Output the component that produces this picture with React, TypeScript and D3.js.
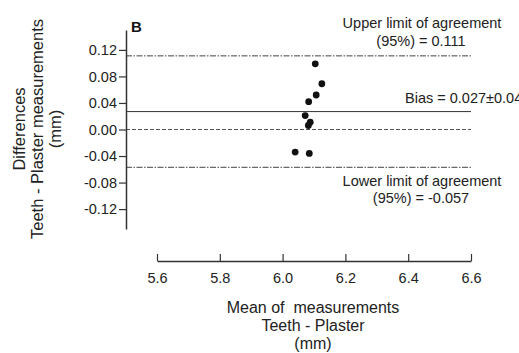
import React, { useRef, useEffect } from "react";
import { select, scaleLinear, axisLeft, axisBottom, format } from "d3";

// Bland-Altman data
const meanValues = [6.104, 6.125, 6.107, 6.083, 6.072, 6.088, 6.082, 6.04, 6.085];
const diffValues = [0.099, 0.069, 0.052, 0.042, 0.021, 0.011, 0.006, -0.034, -0.036];
const yTicks = [-0.12, -0.08, -0.04, 0.0, 0.04, 0.08, 0.12];
const xTicks = [5.6, 5.8, 6.0, 6.2, 6.4, 6.6];
const upperLimit = 0.111;
const bias = 0.027;
const lowerLimit = -0.057;

const width = 519;
const height = 353;
const font = "'Liberation Sans', Arial, sans-serif";

// plain hyphen instead of d3's unicode minus
const fmt2 = (d) => format(".2f")(d).replace("\u2212", "-");

const App = () => {
    const yAxisRef = useRef(null);
    const xAxisRef = useRef(null);

    const xScale = scaleLinear().domain([5.6, 6.6]).range([157, 471]);
    const yScale = scaleLinear().domain([-0.15, 0.15]).range([229, 30]);
    const yAxisX = 126;
    const xAxisY = 261;

    useEffect(() => {
        const yAxis = axisLeft(yScale).tickValues(yTicks).tickFormat(fmt2).tickSize(7).tickSizeOuter(0);
        const gy = select(yAxisRef.current);
        gy.selectAll("*").remove();
        gy.call(yAxis);
        gy.select(".domain").attr("stroke", "#333").attr("stroke-width", 1.5);
        gy.selectAll(".tick line").attr("stroke", "#333").attr("stroke-width", 1.2);
        gy.selectAll(".tick text")
            .attr("font-family", font)
            .attr("font-size", 14.5)
            .attr("fill", "#222")
            .attr("x", -9)
            .text((d) => (d === 0 ? "0.00" : fmt2(d)));

        const xAxis = axisBottom(xScale).tickValues(xTicks).tickFormat(format(".1f")).tickSize(-7).tickSizeOuter(0);
        const gx = select(xAxisRef.current);
        gx.selectAll("*").remove();
        gx.call(xAxis);
        gx.select(".domain").attr("stroke", "#333").attr("stroke-width", 1.5);
        gx.selectAll(".tick line").attr("stroke", "#333").attr("stroke-width", 1.2);
        gx.selectAll(".tick text")
            .attr("font-family", font)
            .attr("font-size", 14.5)
            .attr("fill", "#222")
            .attr("y", 12);
    }, []);

    const lineEnd = xScale(6.6);

    return (
        <svg width={width} height={height} style={{ position: "absolute", left: 0, top: 0, background: "#fff" }}>
            {/* reference lines */}
            <line x1={yAxisX} x2={lineEnd} y1={yScale(upperLimit)} y2={yScale(upperLimit)} stroke="#444" strokeWidth={1} strokeDasharray="6,1.5,1.5,1.5" />
            <line x1={yAxisX} x2={lineEnd} y1={yScale(bias)} y2={yScale(bias)} stroke="#333" strokeWidth={1} />
            <line x1={yAxisX} x2={lineEnd} y1={yScale(0)} y2={yScale(0)} stroke="#555" strokeWidth={1} strokeDasharray="4,2" />
            <line x1={yAxisX} x2={lineEnd} y1={yScale(lowerLimit)} y2={yScale(lowerLimit)} stroke="#444" strokeWidth={1} strokeDasharray="6,1.5,1.5,1.5" />

            <g ref={yAxisRef} transform={`translate(${yAxisX},0)`} />
            <g ref={xAxisRef} transform={`translate(0,${xAxisY})`} />

            {meanValues.map((m, i) => (
                <circle key={i} cx={xScale(m)} cy={yScale(diffValues[i])} r={3.4} fill="#111" />
            ))}

            <text x={131} y={32} fontFamily={font} fontSize={15} fontWeight="bold" fill="#111">B</text>

            <g fontFamily={font} fontSize={14.5} fill="#222">
                <text x={422} y={28} textAnchor="middle">Upper limit of agreement</text>
                <text x={421} y={46} textAnchor="middle">(95%) = 0.111</text>
                <text x={405} y={103}>Bias = 0.027±0.04</text>
                <text x={422} y={186} textAnchor="middle">Lower limit of agreement</text>
                <text x={421} y={203} textAnchor="middle">(95%) = -0.057</text>
            </g>

            <g fontFamily={font} fontSize={16} fill="#222">
                <text x={313} y={313} textAnchor="middle">{"Mean of\u00a0 measurements"}</text>
                <text x={313} y={331} textAnchor="middle">Teeth - Plaster</text>
                <text x={313} y={349} textAnchor="middle">(mm)</text>
            </g>

            <g fontFamily={font} fontSize={16.5} fill="#222">
                <text transform="translate(25,129) rotate(-90)" textAnchor="middle">Differences</text>
                <text transform="translate(43,129) rotate(-90)" textAnchor="middle">Teeth - Plaster measurements</text>
                <text transform="translate(61,129) rotate(-90)" textAnchor="middle">(mm)</text>
            </g>
        </svg>
    );
};

export default App;
